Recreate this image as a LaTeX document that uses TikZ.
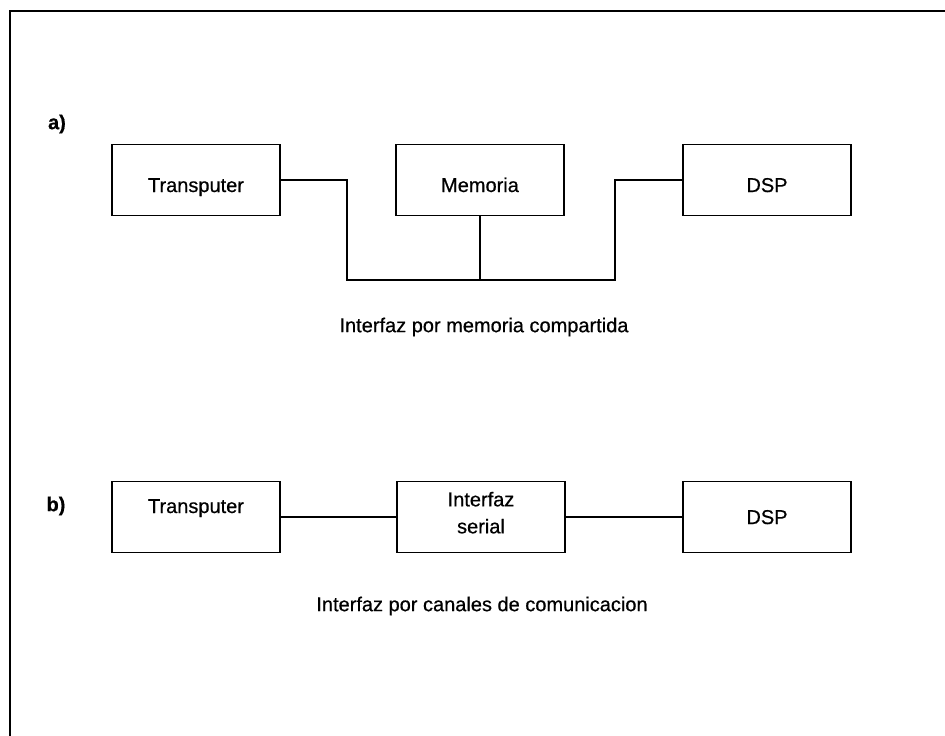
\documentclass[tikz,border=0pt]{standalone}
\usepackage{fontspec}
\setmainfont{Liberation Sans}[FakeBold=0.6]
% text placed with a given baseline offset from the box centre
\newcommand{\boxtext}[2]{\raisebox{#1}[0pt][0pt]{#2}}
\begin{document}
\begin{tikzpicture}[x=1pt,y=-1pt,
  blockbox/.style={draw, line width=1.6pt, minimum width=168pt, minimum height=71pt,
    inner sep=0pt, font=\fontsize{20}{25}\selectfont, align=center},
  wire/.style={line width=1.6pt},
  caption/.style={font=\fontsize{20}{24}\selectfont},
  tag/.style={font=\bfseries\fontsize{20}{24}\selectfont}]
\useasboundingbox (0,0) rectangle (945,736);
% outer frame (only the left and top edges fall inside the page)
\draw[line width=2.6pt] (10,740) -- (10,11) -- (950,11);

% a) shared-memory interface
\node[tag] (la) at (57,124) {a)};
\node[blockbox] (tA) at (196,180) {\boxtext{-12pt}{Transputer}};
\node[blockbox] (mA) at (480,180) {\boxtext{-12pt}{Memoria}};
\node[blockbox] (dA) at (767,180) {\boxtext{-12pt}{DSP}};
\coordinate (busL) at (347,280);
\coordinate (busR) at (615,280);
\draw[wire] (tA.east) -| (busL) -- (busR) |- (dA.west);
\draw[wire] (mA.south) -- (mA.south |- busL);
\node[caption] (capA) at (484,327) {Interfaz por memoria compartida};

% b) serial-channel interface
\node[tag] (lb) at (56,506) {b)};
\node[blockbox] (tB) at (196,517) {\boxtext{4pt}{Transputer}};
\node[blockbox] (sB) at (481,517)
  {\boxtext{-3pt}{\begin{tabular}{@{}c@{}}Interfaz\\[2pt]serial\end{tabular}}};
\node[blockbox] (dB) at (767,517) {\boxtext{-7pt}{DSP}};
\draw[wire] (tB.east) -- (sB.west);
\draw[wire] (sB.east) -- (dB.west);
\node[caption] (capB) at (482,606) {Interfaz por canales de comunicacion};
\end{tikzpicture}
\end{document}
